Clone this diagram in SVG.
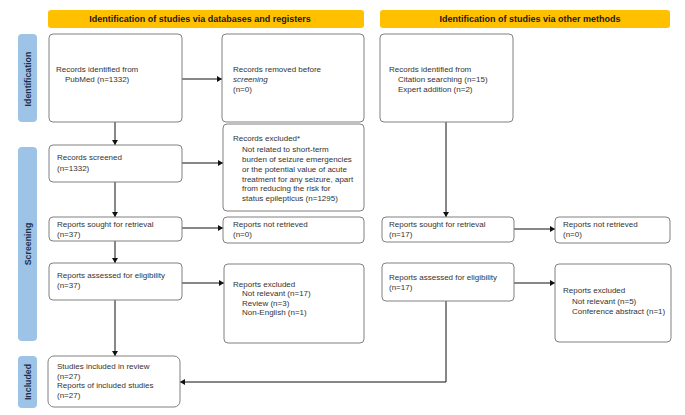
<svg xmlns="http://www.w3.org/2000/svg" width="685" height="415" viewBox="0 0 685 415">
<style>
.hdr{fill:#FFC000;}
.side{fill:#9DC3E6;}
.hdrt{font-family:"Liberation Sans",Arial,sans-serif;font-size:9px;font-weight:bold;fill:#1a1a1a;text-anchor:middle;}
.sidet{font-family:"Liberation Sans",Arial,sans-serif;font-size:8.8px;font-weight:bold;fill:#1f2d4a;text-anchor:middle;dominant-baseline:central;}
.box{fill:#fff;stroke:#808080;stroke-width:1;}
.t{font-family:"Liberation Sans",Arial,sans-serif;font-size:8px;fill:#333;}
.conn{fill:none;stroke:#111;stroke-width:1;}
</style>
<defs>
<marker id="ah" markerUnits="userSpaceOnUse" markerWidth="6" markerHeight="6" refX="5" refY="3" orient="auto">
<path d="M0,0 L5,3 L0,6 Z" fill="#111"/>
</marker>
</defs>
<rect width="685" height="415" fill="#fff"/>
<g id="headers">
<rect class="hdr" x="48" y="10" width="316" height="18" rx="3"/>
<text class="hdrt" x="200" y="22">Identification of studies via databases and registers</text>
<rect class="hdr" x="380" y="10" width="290" height="18" rx="3"/>
<text class="hdrt" x="530" y="22">Identification of studies via other methods</text>
</g>
<g id="phases">
<rect class="side" x="18" y="34" width="19" height="88" rx="4"/>
<text class="sidet" transform="translate(27.5,79) rotate(-90)">Identification</text>
<rect class="side" x="18" y="147" width="19" height="194" rx="4"/>
<text class="sidet" transform="translate(27.5,244) rotate(-90)">Screening</text>
<rect class="side" x="18" y="356" width="19" height="52" rx="4"/>
<text class="sidet" transform="translate(27.5,382) rotate(-90)">Included</text>
</g>
<g id="connectors">
<line class="conn" x1="182" y1="79" x2="222" y2="79" marker-end="url(#ah)"/>
<line class="conn" x1="115" y1="122" x2="115" y2="145" marker-end="url(#ah)"/>
<line class="conn" x1="182" y1="163" x2="223" y2="163" marker-end="url(#ah)"/>
<line class="conn" x1="115" y1="182" x2="115" y2="217" marker-end="url(#ah)"/>
<line class="conn" x1="182" y1="228" x2="223" y2="228" marker-end="url(#ah)"/>
<line class="conn" x1="115" y1="241" x2="115" y2="263" marker-end="url(#ah)"/>
<line class="conn" x1="182" y1="283" x2="224" y2="283" marker-end="url(#ah)"/>
<line class="conn" x1="115" y1="300" x2="115" y2="356" marker-end="url(#ah)"/>
<line class="conn" x1="446" y1="122" x2="446" y2="217" marker-end="url(#ah)"/>
<line class="conn" x1="514" y1="229" x2="555" y2="229" marker-end="url(#ah)"/>
<line class="conn" x1="514" y1="283" x2="555" y2="283" marker-end="url(#ah)"/>
<polyline class="conn" points="446,301 446,382 180,382" marker-end="url(#ah)"/>
</g>
<g id="n1">
<rect class="box" x="49" y="34" width="133" height="88" rx="4"/>
<text class="t" x="56" y="72">Records identified from</text>
<text class="t" x="65" y="82">PubMed (n=1332)</text>
</g>
<g id="n2">
<rect class="box" x="222" y="34" width="142" height="88" rx="4"/>
<text class="t" x="233" y="72">Records removed before</text>
<text class="t" x="233" y="82" font-style="italic">screening</text>
<text class="t" x="233" y="92">(n=0)</text>
</g>
<g id="n3">
<rect class="box" x="380" y="34" width="133" height="88" rx="4"/>
<text class="t" x="389" y="72">Records identified from</text>
<text class="t" x="398" y="82">Citation searching (n=15)</text>
<text class="t" x="398" y="92">Expert addition (n=2)</text>
</g>
<g id="n4">
<rect class="box" x="49" y="145" width="133" height="37" rx="4"/>
<text class="t" x="57" y="160">Records screened</text>
<text class="t" x="57" y="171">(n=1332)</text>
</g>
<g id="n5">
<rect class="box" x="223" y="124" width="141" height="87" rx="4"/>
<text class="t" x="233" y="141">Records excluded*</text>
<text class="t" x="242" y="152">Not related to short-term</text>
<text class="t" x="242" y="162">burden of seizure emergencies</text>
<text class="t" x="242" y="172">or the potential value of acute</text>
<text class="t" x="242" y="182">treatment for any seizure, apart</text>
<text class="t" x="242" y="191">from reducing the risk for</text>
<text class="t" x="242" y="201">status epilepticus (n=1295)</text>
</g>
<g id="n6">
<rect class="box" x="49" y="217" width="133" height="24" rx="4"/>
<text class="t" x="57" y="227">Reports sought for retrieval</text>
<text class="t" x="57" y="237">(n=37)</text>
</g>
<g id="n7">
<rect class="box" x="223" y="217" width="141" height="26" rx="4"/>
<text class="t" x="233" y="227">Reports not retrieved</text>
<text class="t" x="233" y="237">(n=0)</text>
</g>
<g id="n8">
<rect class="box" x="382" y="217" width="132" height="25" rx="4"/>
<text class="t" x="389" y="227">Reports sought for retrieval</text>
<text class="t" x="389" y="237">(n=17)</text>
</g>
<g id="n9">
<rect class="box" x="555" y="217" width="115" height="26" rx="4"/>
<text class="t" x="563" y="227">Reports not retrieved</text>
<text class="t" x="563" y="237">(n=0)</text>
</g>
<g id="n10">
<rect class="box" x="49" y="263" width="133" height="37" rx="4"/>
<text class="t" x="57" y="278">Reports assessed for eligibility</text>
<text class="t" x="57" y="288">(n=37)</text>
</g>
<g id="n11">
<rect class="box" x="224" y="264" width="140" height="79" rx="4"/>
<text class="t" x="233" y="287">Reports excluded</text>
<text class="t" x="242" y="296">Not relevant (n=17)</text>
<text class="t" x="242" y="306">Review (n=3)</text>
<text class="t" x="242" y="315">Non-English (n=1)</text>
</g>
<g id="n12">
<rect class="box" x="382" y="263" width="132" height="38" rx="4"/>
<text class="t" x="389" y="280">Reports assessed for eligibility</text>
<text class="t" x="389" y="290">(n=17)</text>
</g>
<g id="n13">
<rect class="box" x="555" y="264" width="116" height="78" rx="4"/>
<text class="t" x="563" y="293">Reports excluded</text>
<text class="t" x="572" y="304">Not relevant (n=5)</text>
<text class="t" x="572" y="314">Conference abstract (n=1)</text>
</g>
<g id="n14">
<rect class="box" x="48" y="356" width="132" height="51" rx="6"/>
<text class="t" x="57" y="369">Studies included in review</text>
<text class="t" x="57" y="379">(n=27)</text>
<text class="t" x="57" y="388">Reports of included studies</text>
<text class="t" x="57" y="398">(n=27)</text>
</g>
</svg>
